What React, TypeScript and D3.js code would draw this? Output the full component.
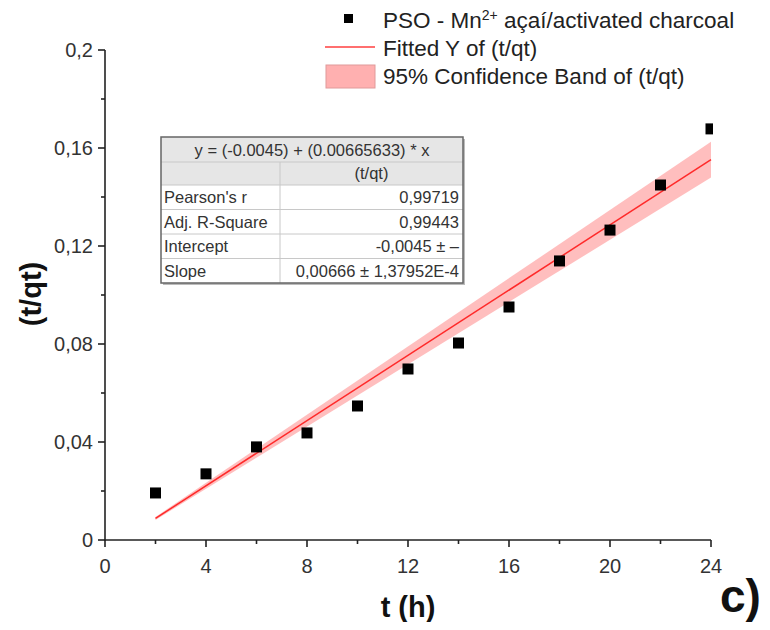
import * as d3 from "d3";

// experimental points, t (h) vs t/qt
const times = [2, 4, 6, 8, 10, 12, 14, 16, 18, 20, 22, 24];
const tqt = [0.0192, 0.027, 0.038, 0.0437, 0.0547, 0.0698, 0.0804, 0.0951, 0.1139, 0.1265, 0.1449, 0.1678];

// fit parameters as printed in the table (intercept was fixed)
const intercept = -0.0045;
const slope = 0.00665633;
const slopeErr = 1.37952e-4;
const tCrit = 2.201; // t(0.975, 11 dof)

const xTicks = [0, 4, 8, 12, 16, 20, 24];
const xMinor = [2, 6, 10, 14, 18, 22];
const yTicks = [0, 0.04, 0.08, 0.12, 0.16, 0.2];
const yMinor = [0.02, 0.06, 0.1, 0.14, 0.18];

const tableRows = [
  ["Pearson's r", "0,99719"],
  ["Adj. R-Square", "0,99443"],
  ["Intercept", "-0,0045 ± –"],
  ["Slope", "0,00666 ± 1,37952E-4"],
];

const font = "'Liberation Sans', Arial, sans-serif";

export default function App() {
  const W = 770;
  const H = 630;
  const x = d3.scaleLinear().domain([0, 24]).range([105, 711]);
  const y = d3.scaleLinear().domain([0, 0.2]).range([540, 50]);

  const fitLine = d3
    .line<number>()
    .x((d) => x(d))
    .y((d) => y(intercept + slope * d));

  const band = d3
    .area<number>()
    .x((d) => x(d))
    .y0((d) => y(intercept + (slope - tCrit * slopeErr) * d))
    .y1((d) => y(intercept + (slope + tCrit * slopeErr) * d));

  const fitX = [times[0], times[times.length - 1]];
  const fmt = (v: number) => (v === 0 ? "0" : String(+v.toFixed(2)).replace(".", ","));

  // table geometry
  const tL = 161, tR = 463, tT = 137, colX = 280;
  const rowH = [25, 23, 24.5, 24.5, 24.5, 24.5];
  const rowY = rowH.reduce<number[]>((acc, h, i) => [...acc, acc[i] + h], [tT]);

  return (
    <svg width={W} height={H} style={{ display: "block", margin: -8, background: "#fff" }} fontFamily={font}>
      <defs>
        <clipPath id="plotClip">
          <rect x={0} y={0} width={713} height={H} />
        </clipPath>
      </defs>

      {/* confidence band + fit */}
      <path d={band(fitX) || ""} fill="#ffa3a3" fillOpacity={0.7} />
      <path d={fitLine(fitX) || ""} fill="none" stroke="#ff2a2a" strokeWidth={1.5} />

      {/* points */}
      <g clipPath="url(#plotClip)">
        {times.map((t, i) => (
          <rect key={t} x={x(t) - 5.5} y={y(tqt[i]) - 5.5} width={11} height={11} fill="#000" />
        ))}
      </g>

      {/* axes */}
      <g stroke="#222" strokeWidth={1.6} fill="none">
        <line x1={x(0)} x2={x(0)} y1={y(0.2)} y2={y(0) + 1} />
        <line x1={x(0) - 1} x2={x(24)} y1={y(0)} y2={y(0)} />
        {yTicks.map((v) => (
          <line key={"yt" + v} x1={x(0) - 7} x2={x(0)} y1={y(v)} y2={y(v)} />
        ))}
        {yMinor.map((v) => (
          <line key={"ym" + v} x1={x(0) - 4} x2={x(0)} y1={y(v)} y2={y(v)} />
        ))}
        {xTicks.map((v) => (
          <line key={"xt" + v} x1={x(v)} x2={x(v)} y1={y(0)} y2={y(0) + 7} />
        ))}
        {xMinor.map((v) => (
          <line key={"xm" + v} x1={x(v)} x2={x(v)} y1={y(0)} y2={y(0) + 4} />
        ))}
      </g>
      <g fill="#333" fontSize={20}>
        {yTicks.map((v) => (
          <text key={"yl" + v} x={x(0) - 12} y={y(v) + 7} textAnchor="end">
            {fmt(v)}
          </text>
        ))}
        {xTicks.map((v) => (
          <text key={"xl" + v} x={x(v)} y={y(0) + 33} textAnchor="middle">
            {v}
          </text>
        ))}
      </g>

      {/* axis titles */}
      <text x={408} y={617} textAnchor="middle" fontSize={29} fontWeight="bold" fill="#111">
        t (h)
      </text>
      <text transform="translate(41,294) rotate(-90)" textAnchor="middle" fontSize={29} fontWeight="bold" fill="#111">
        (t/qt)
      </text>
      <text x={720} y={612} fontSize={46} fontWeight="bold" fill="#111">
        c)
      </text>

      {/* legend */}
      <g fontSize={22.5} fill="#222">
        <rect x={344} y={14} width={9} height={9} fill="#000" />
        <text x={383} y={28}>
          PSO - Mn<tspan dy={-8} fontSize={14}>2+</tspan>
          <tspan dy={8}> açaí/activated charcoal</tspan>
        </text>
        <line x1={325} x2={375} y1={47} y2={47} stroke="#ff6f6f" strokeWidth={2} />
        <text x={383} y={56}>Fitted Y of (t/qt)</text>
        <rect x={326} y={65} width={49} height={23} fill="#ffb0b0" stroke="#e09a9a" strokeWidth={1} />
        <text x={383} y={84}>95% Confidence Band of (t/qt)</text>
      </g>

      {/* stats table */}
      <g fontSize={16.5} fill="#333">
        <rect x={tL + 2} y={tT + 2} width={tR - tL} height={rowY[6] - tT} fill="#bbb" />
        <rect x={tL} y={tT} width={tR - tL} height={rowY[6] - tT} fill="#fff" />
        <rect x={tL} y={tT} width={tR - tL} height={rowY[2] - tT} fill="#e6e6e6" />
        <g stroke="#c8c8c8" strokeWidth={1}>
          {rowY.slice(1, 6).map((ry, i) => (
            <line key={"r" + i} x1={tL} x2={tR} y1={ry} y2={ry} />
          ))}
          <line x1={colX} x2={colX} y1={rowY[1]} y2={rowY[6]} />
        </g>
        <rect x={tL} y={tT} width={tR - tL} height={rowY[6] - tT} fill="none" stroke="#666" strokeWidth={1.5} />
        <text x={(tL + tR) / 2} y={rowY[0] + 19} textAnchor="middle">
          y = (-0.0045) + (0.00665633) * x
        </text>
        <text x={(colX + tR) / 2} y={rowY[1] + 17} textAnchor="middle">
          (t/qt)
        </text>
        {tableRows.map((r, i) => (
          <g key={r[0]}>
            <text x={tL + 3} y={rowY[i + 2] + 18}>{r[0]}</text>
            <text x={tR - 4} y={rowY[i + 2] + 18} textAnchor="end">{r[1]}</text>
          </g>
        ))}
      </g>
    </svg>
  );
}
